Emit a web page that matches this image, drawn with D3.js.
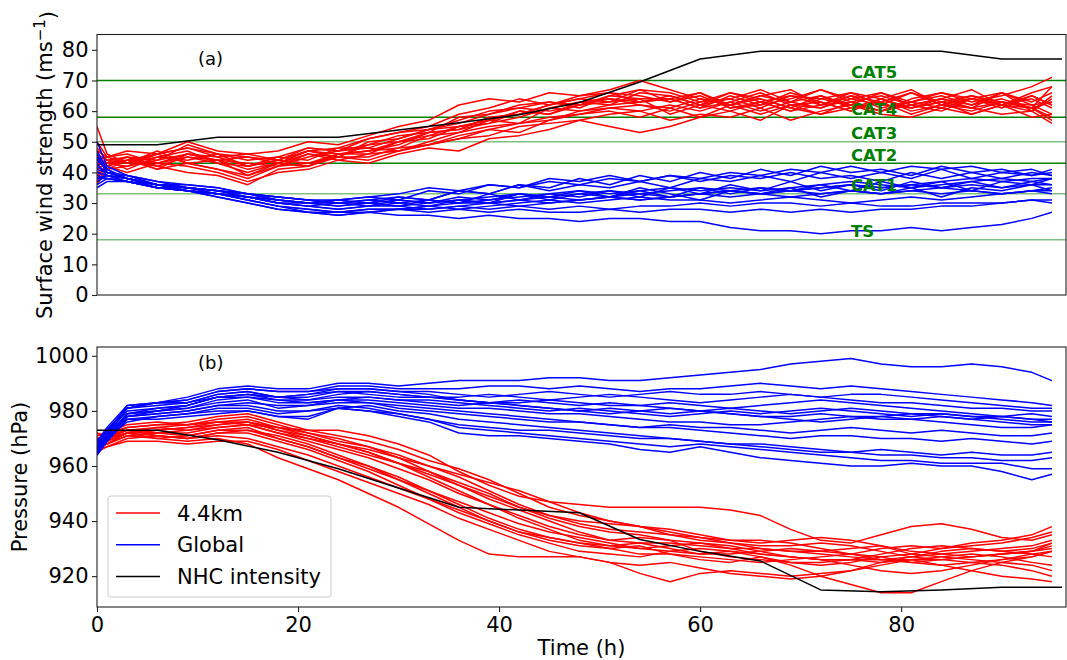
<!DOCTYPE html>
<html>
<head>
<meta charset="utf-8">
<script src="https://cdn.jsdelivr.net/npm/d3@7"></script>
<style>
  body { margin: 0; background: #fff; }
  text { font-family: "DejaVu Sans", sans-serif; }
</style>
</head>
<body>
<div id="chart"></div>
<script>
// forecast hours of the ensemble members
var hours = [0,1,3,6,9,12,15,18,21,24,27,30,33,36,39,42,45,48,51,54,57,60,63,66,69,72,75,78,81,84,87,90,93,95];
// best track every 6 h
var nhcHours = [0,6,12,18,24,30,36,42,48,54,60,66,72,78,84,90,96];
var nhcWind = [49,49,51.5,51.5,51.5,53.8,56.2,58.8,62.8,69.5,77,79.5,79.5,79.5,79.5,77,77];
var nhcPres = [973,973,969.5,965,959,952,945,944,943,933.3,929,925.5,915,914.3,915,916,916];

var catLevels = [18,33,43,50,58,70];
var catLabels = ["TS","CAT1","CAT2","CAT3","CAT4","CAT5"];
var windTicks = [0,10,20,30,40,50,60,70,80];
var presTicks = [920,940,960,980,1000];
var timeTicks = [0,20,40,60,80];
var legendLabels = ["4.4km","Global","NHC intensity"];

// (a) 4.4km wind
var windHi = [
  [55,46,43,45,44,46,42,44,47,46, 47,50,51,55,57,59,62,64,63,67, 66,63,64,61,65,64,62,66,63,61, 64,62,65,62],
  [45,43,44,41,43,41,38,42,43,45, 44,47,49,51,54,53,57,60,61,62, 61,64,62,59,62,63,60,64,61,63, 59,62,61,57],
  [38,42,44,46,48,45,46,44,47,48, 51,53,55,59,61,64,62,65,66,63, 64,66,62,65,67,62,63,60,64,66, 63,65,68,71],
  [42,44,45,42,45,43,40,43,42,46, 47,48,52,53,57,56,61,63,62,66, 65,62,66,63,60,64,66,62,61,64, 62,66,60,64],
  [36,41,42,44,49,46,44,45,48,47, 49,52,53,58,59,62,63,61,65,67, 63,65,61,62,66,63,60,64,67,62, 65,63,61,68],
  [48,44,43,47,43,44,41,43,46,44, 46,50,52,55,56,60,59,63,64,62, 60,63,66,64,61,65,62,60,63,66, 64,61,65,62],
  [40,42,45,41,46,44,39,42,45,47, 48,47,50,53,55,56,58,59,61,60, 62,60,63,66,62,61,65,63,59,62, 64,62,60,65],
  [44,45,47,46,50,47,46,47,50,49, 52,55,57,62,64,63,66,65,67,70, 67,64,62,65,63,67,64,62,66,63, 61,66,63,66],
  [39,42,40,43,42,40,37,40,41,44, 43,46,48,47,51,52,54,57,55,53, 55,58,60,57,62,59,61,64,60,62, 61,59,60,56],
  [41,43,45,44,46,44,43,42,46,45, 50,51,54,57,60,61,63,62,65,64, 64,61,65,62,64,67,63,65,62,60, 64,66,62,63],
  [46,44,41,45,47,43,42,44,43,46, 47,49,53,54,58,59,62,64,66,65, 63,66,61,63,60,62,65,61,63,65, 62,64,61,63],
  [43,42,44,42,40,39,36,41,42,45, 45,48,49,52,54,56,57,59,60,58, 61,58,62,64,61,59,63,60,62,64, 61,63,62,59],
  [50,45,43,46,48,46,45,44,48,47, 51,53,54,56,59,61,60,62,64,63, 65,62,64,67,63,61,64,66,62,64, 67,62,64,61],
  [37,41,44,43,46,45,42,45,44,48, 48,51,54,55,57,60,59,62,63,64, 59,62,60,63,65,62,66,64,61,63, 65,62,66,68],
  [44,43,42,46,43,41,39,43,42,46, 46,47,49,51,52,55,56,57,59,60, 57,59,58,61,57,60,62,59,58,61, 59,62,58,59],
  [47,45,46,43,45,44,45,43,47,45, 49,50,53,54,56,58,61,60,62,63, 64,61,63,60,63,65,61,63,66,62, 60,63,61,58]
];
// (a) global wind
var windLo = [
  [40,39,37,35,34,33,31,29,27,26, 27,26,26,25,26,25,25,24,25,25, 24,24,22,21,21,20,21,21,22,21, 22,23,25,27],
  [38,38,37,35,34,32,30,28,27,27, 27,28,27,28,27,28,27,27,28,27, 28,28,27,28,27,28,27,28,28,29, 29,30,31,31],
  [45,40,38,36,35,34,32,30,29,28, 29,30,29,31,30,33,31,33,32,34, 32,35,33,35,34,36,34,37,35,37, 34,37,36,38],
  [50,42,39,37,35,34,33,31,30,31, 32,31,34,33,36,35,38,37,39,37, 39,38,40,39,41,40,42,40,42,41, 42,40,41,39],
  [36,38,37,36,35,33,32,30,29,30, 29,31,30,32,31,33,32,34,32,35, 33,31,34,33,35,32,34,33,35,32, 35,34,36,34],
  [42,40,39,36,36,35,33,32,31,30, 31,32,31,34,33,36,34,36,35,37, 35,38,37,39,37,40,38,40,38,41, 38,40,39,41],
  [37,39,38,35,34,33,31,29,28,27, 28,28,29,30,30,31,30,31,32,33, 32,33,32,33,34,33,34,33,34,35, 34,33,34,34],
  [44,41,38,36,35,34,33,31,30,29, 30,29,31,30,33,31,33,32,34,32, 35,33,36,34,37,34,36,34,37,35, 37,35,37,36],
  [39,38,37,35,34,33,32,30,30,31, 30,32,31,34,33,36,35,38,36,39, 37,40,38,41,39,42,40,41,39,42, 40,41,39,40],
  [47,41,38,36,35,33,32,31,30,29, 30,29,30,31,30,31,32,31,32,31, 32,33,34,33,32,33,34,33,34,33, 34,33,34,33],
  [35,37,37,35,34,32,30,28,27,26, 27,28,28,29,30,29,30,31,32,31, 32,33,34,35,34,35,36,35,36,37, 38,37,38,38],
  [41,40,38,36,35,34,33,32,31,31, 32,33,35,34,36,35,37,36,38,37, 39,37,39,38,40,38,39,37,40,38, 40,38,40,39],
  [43,39,38,36,34,33,31,29,28,27, 28,28,29,28,29,30,31,30,31,32, 31,31,30,31,32,31,30,31,32,31, 32,33,34,35],
  [38,39,37,35,35,34,32,31,30,30, 30,31,30,31,32,33,32,33,34,33, 34,35,34,33,34,35,36,35,36,35, 36,35,36,36],
  [46,40,39,37,36,35,33,32,31,30, 31,30,31,30,31,32,33,34,33,34, 35,34,35,34,35,36,37,36,35,36, 37,38,37,38],
  [40,39,38,36,34,33,32,30,29,28, 29,29,28,29,28,29,28,29,28,29, 29,30,29,30,30,29,30,29,29,30, 30,30,31,30]
];
// (b) 4.4km pressure
var presHi = [
  [971,972,974,975,975,976,975,974,973,973, 971,968,964,958,953,949,947,946,945,945, 945,945,944,942,937,933,932,935,938,939, 937,934,933,935],
  [967,968,971,970,969,970,968,963,959,955, 950,945,939,933,928,927,927,927,925,921, 918,921,922,921,920,921,922,925,926,924, 922,920,919,918],
  [969,970,973,972,971,973,974,970,967,963, 960,956,951,946,941,937,934,932,930,931, 928,926,925,927,924,920,917,914,914,918, 922,925,927,929],
  [966,968,972,973,974,976,977,974,971,968, 965,961,956,951,946,941,937,933,931,930, 931,932,930,928,927,926,926,925,927,928, 929,930,931,933],
  [970,971,973,972,973,975,976,973,970,968, 966,963,960,956,951,946,942,940,939,938, 936,934,933,933,932,930,928,926,927,929, 930,929,930,932],
  [965,967,970,971,970,972,973,971,968,964, 960,955,950,945,940,936,933,931,930,928, 928,927,926,925,926,927,928,930,931,930, 931,932,934,936],
  [968,969,972,974,975,977,978,975,972,970, 967,964,960,957,954,951,947,943,940,938, 935,934,932,930,929,929,930,931,929,928, 927,928,929,931],
  [972,971,973,971,970,971,970,967,964,960, 956,952,948,943,939,935,932,929,928,927, 929,930,929,927,925,924,925,927,928,927, 926,925,924,922],
  [967,969,972,973,974,975,976,974,972,969, 967,963,958,953,948,944,940,936,933,932, 932,931,930,930,929,928,927,926,926,926, 927,928,929,930],
  [969,970,973,974,973,974,975,972,969,966, 963,959,955,950,946,942,938,935,933,934, 933,929,927,926,925,925,926,928,930,931, 930,929,928,927],
  [966,967,969,969,968,969,969,966,962,958, 954,950,946,941,937,933,929,927,925,924, 925,923,921,920,919,920,922,924,926,927, 928,927,925,924],
  [970,971,974,975,976,978,979,976,973,971, 969,966,962,959,955,950,945,942,940,938, 937,935,933,932,933,934,933,931,928,930, 932,933,935,938],
  [968,970,972,970,971,973,973,970,967,963, 959,955,951,947,943,939,936,934,932,930, 929,928,928,929,930,929,928,927,925,924, 925,926,927,929],
  [971,972,975,976,975,976,976,973,971,968, 965,961,957,953,949,945,941,938,936,935, 933,932,931,929,927,926,924,922,921,922, 924,926,928,929],
  [967,968,971,972,972,974,975,972,970,967, 964,961,958,954,950,945,942,939,937,936, 935,933,932,931,931,932,931,929,927,926, 925,924,922,920],
  [969,970,972,971,970,972,972,969,966,962, 958,953,948,944,940,936,934,932,931,932, 930,928,929,928,927,926,926,926,925,926, 927,928,929,932]
];
// (b) global pressure
var presLo = [
  [966,971,981,983,985,988,989,988,988,990, 990,989,990,991,991,991,992,992,991,991, 992,993,994,995,997,998,999,997,996,996, 997,996,994,991],
  [967,972,982,983,984,987,988,987,987,989, 989,988,988,988,989,989,988,989,988,987, 988,988,989,990,989,988,989,988,987,986, 985,984,983,982],
  [968,973,981,983,983,986,987,985,986,988, 988,987,987,986,985,986,987,986,985,986, 987,986,986,987,986,985,986,986,985,984, 983,982,981,981],
  [965,970,979,981,982,985,986,985,985,987, 987,986,985,985,986,985,984,985,986,985, 984,983,984,985,986,985,984,983,983,982, 981,981,980,980],
  [969,973,981,982,983,986,987,985,984,986, 987,986,985,984,983,984,983,982,983,982, 983,982,981,982,983,984,983,982,981,980, 979,978,979,978],
  [966,971,979,980,981,984,985,984,984,985, 985,984,983,982,983,982,981,980,981,980, 979,980,981,980,979,980,981,980,979,978, 977,978,977,977],
  [964,969,978,980,982,985,986,984,983,984, 985,984,984,983,982,981,980,981,980,979, 978,979,980,979,980,981,980,979,978,979, 978,977,976,976],
  [967,972,980,981,982,985,986,985,986,987, 986,985,985,984,983,982,981,980,979,980, 981,980,979,978,978,979,978,978,977,978, 977,976,975,975],
  [968,973,981,983,984,987,988,987,987,988, 988,987,986,984,983,983,984,983,982,982, 981,980,979,978,977,976,977,978,979,979, 978,978,977,976],
  [965,970,978,979,980,982,983,982,982,984, 984,983,982,981,981,980,979,979,978,977, 976,976,975,975,976,977,978,977,977,976, 975,974,974,975],
  [966,971,979,980,981,983,984,981,982,983, 983,982,981,980,979,978,977,976,975,974, 975,974,974,973,972,973,974,973,972,973, 972,971,971,972],
  [969,974,982,983,983,985,985,983,983,984, 983,981,980,979,978,977,976,976,975,974, 974,973,972,971,970,971,971,970,970,969, 970,969,968,969],
  [964,969,977,978,979,981,981,979,980,981, 980,979,977,975,974,973,973,972,971,970, 970,969,968,968,967,966,965,966,965,964, 965,964,964,965],
  [967,971,978,979,980,982,982,980,980,982, 981,979,977,974,973,972,971,970,969,968, 967,968,967,966,965,964,963,962,962,961, 961,961,959,959],
  [965,969,977,977,978,979,980,978,978,981, 980,978,976,972,971,971,970,969,968,966, 965,967,965,963,962,961,960,960,961,960, 960,958,955,957],
  [966,970,976,978,979,980,980,978,977,981, 982,980,979,977,976,975,974,973,972,971, 970,969,968,967,966,965,965,964,964,963, 963,962,962,963]
];

var W = 1067, H = 660;
var left = 97, right = 1066;
var svg = d3.select("#chart").append("svg").attr("width", W).attr("height", H);

var x = d3.scaleLinear().domain([0, 96.4]).range([left, right]);
var ya = d3.scaleLinear().domain([0, 85]).range([295, 34.5]);
var yb = d3.scaleLinear().domain([908.8, 1003.2]).range([607, 347]);

var defs = svg.append("defs");

function panel(id, y, hi, lo, nhc) {
  var r = y.range();
  defs.append("clipPath").attr("id", id)
    .append("rect").attr("x", left).attr("y", r[1]).attr("width", right - left).attr("height", r[0] - r[1]);
  var g = svg.append("g");
  var plot = g.append("g").attr("clip-path", "url(#" + id + ")");
  return { g: g, plot: plot, hi: hi, lo: lo, nhc: nhc, y: y };
}

function drawSeries(p) {
  var member = d3.line().x(function (d, i) { return x(hours[i]); }).y(function (d) { return p.y(d); });
  var track = d3.line().x(function (d, i) { return x(nhcHours[i]); }).y(function (d) { return p.y(d); });
  p.plot.selectAll("path.hi").data(p.hi).enter().append("path")
    .attr("class", "hi").attr("d", member)
    .attr("fill", "none").attr("stroke", "#ff0000").attr("stroke-width", 1.5).attr("stroke-linejoin", "round");
  p.plot.selectAll("path.lo").data(p.lo).enter().append("path")
    .attr("class", "lo").attr("d", member)
    .attr("fill", "none").attr("stroke", "#0000ff").attr("stroke-width", 1.5).attr("stroke-linejoin", "round");
  p.plot.append("path").datum(p.nhc).attr("d", track)
    .attr("fill", "none").attr("stroke", "#000").attr("stroke-width", 1.5).attr("stroke-linejoin", "round");
}

function frame(p) {
  var r = p.y.range();
  p.g.append("rect").attr("x", left).attr("y", r[1]).attr("width", right - left).attr("height", r[0] - r[1])
    .attr("fill", "none").attr("stroke", "#222").attr("stroke-width", 1.1);
}

function styleAxis(a) {
  a.select(".domain").remove();
  a.selectAll(".tick line").attr("stroke", "#222").attr("stroke-width", 1.1);
  a.selectAll(".tick text").attr("fill", "#000").style("font-size", "21px").style("font-family", "DejaVu Sans, sans-serif");
}

// panel (a)
var pa = panel("clipA", ya, windHi, windLo, nhcWind);
pa.plot.selectAll("line.cat").data(catLevels).enter().append("line")
  .attr("class", "cat")
  .attr("x1", left).attr("x2", right)
  .attr("y1", function (d) { return ya(d); }).attr("y2", function (d) { return ya(d); })
  .attr("stroke", function (d) { return (d === 18 || d === 33 || d === 50) ? "#80bf80" : "#008000"; })
  .attr("stroke-width", 1.5);
drawSeries(pa);
pa.g.selectAll("text.cat").data(catLevels).enter().append("text")
  .attr("class", "cat")
  .attr("x", x(75)).attr("y", function (d) { return ya(d + 0.85); })
  .attr("fill", "#008000").style("font-weight", "bold").style("font-size", "16.5px")
  .text(function (d, i) { return catLabels[i]; });
frame(pa);
styleAxis(pa.g.append("g").attr("transform", "translate(" + left + ",0)")
  .call(d3.axisLeft(ya).tickValues(windTicks).tickFormat(d3.format("d")).tickSize(5).tickPadding(3.5)));
pa.g.append("text").attr("x", 198).attr("y", 64.5).style("font-size", "18px").text("(a)");
var la = pa.g.append("text")
  .attr("transform", "translate(52,165) rotate(-90)")
  .attr("text-anchor", "middle").style("font-size", "21px");
la.append("tspan").text("Surface wind strength (ms");
la.append("tspan").attr("dy", "-0.45em").style("font-size", "15px").text("\u22121");
la.append("tspan").attr("dy", "0.45em").text(")");

// panel (b)
var pb = panel("clipB", yb, presHi, presLo, nhcPres);
drawSeries(pb);
frame(pb);
styleAxis(pb.g.append("g").attr("transform", "translate(" + left + ",0)")
  .call(d3.axisLeft(yb).tickValues(presTicks).tickFormat(d3.format("d")).tickSize(5).tickPadding(3.5)));
styleAxis(pb.g.append("g").attr("transform", "translate(0,607)")
  .call(d3.axisBottom(x).tickValues(timeTicks).tickFormat(d3.format("d")).tickSize(5).tickPadding(4.8)));
pb.g.append("text").attr("x", 198).attr("y", 369).style("font-size", "18px").text("(b)");
pb.g.append("text")
  .attr("transform", "translate(27,477) rotate(-90)")
  .attr("text-anchor", "middle").style("font-size", "21px").text("Pressure (hPa)");
svg.append("text").attr("x", (left + right) / 2).attr("y", 655)
  .attr("text-anchor", "middle").style("font-size", "21px").text("Time (h)");

// legend
var legColors = ["#ff0000", "#0000ff", "#000000"];
var leg = pb.g.append("g");
leg.append("rect").attr("x", 108).attr("y", 496).attr("width", 223).attr("height", 101)
  .attr("rx", 3).attr("fill", "#fff").attr("fill-opacity", 0.8).attr("stroke", "#cccccc");
var items = leg.selectAll("g.item").data(legendLabels).enter().append("g")
  .attr("class", "item")
  .attr("transform", function (d, i) { return "translate(0," + (513 + i * 31.8) + ")"; });
items.append("line").attr("x1", 116).attr("x2", 160).attr("y1", 0).attr("y2", 0)
  .attr("stroke", function (d, i) { return legColors[i]; }).attr("stroke-width", 1.5);
items.append("text").attr("x", 177).attr("y", 7.5).style("font-size", "21px").text(function (d) { return d; });
</script>
</body>
</html>
